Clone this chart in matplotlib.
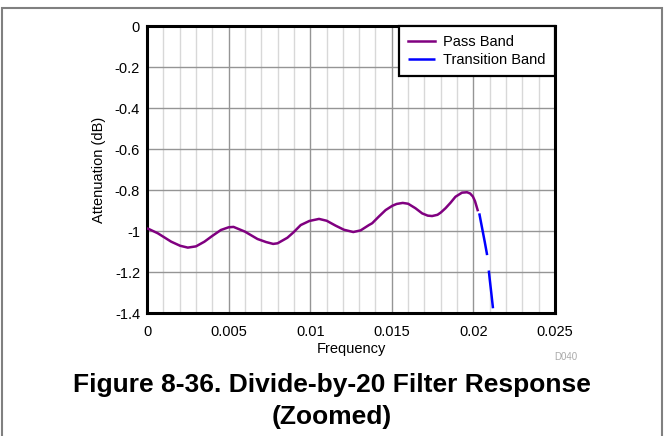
import numpy as np
import matplotlib
matplotlib.use("Agg")
import matplotlib.pyplot as plt
from matplotlib.patches import Rectangle
from matplotlib.ticker import MultipleLocator

plt.rcParams["font.family"] = ["Liberation Sans", "DejaVu Sans"]

# values
pass_freq = [0.0, 0.0001, 0.00066, 0.001, 0.00148, 0.00203, 0.0025, 0.003, 0.00352,
             0.004, 0.00453, 0.005, 0.0053, 0.006, 0.00677, 0.0073, 0.00773, 0.008,
             0.0086, 0.00897, 0.00942, 0.00995, 0.01054, 0.01101, 0.01156, 0.01207,
             0.01264, 0.01309, 0.0136, 0.0138, 0.0142, 0.01462, 0.01503, 0.0153,
             0.01567, 0.016, 0.01645, 0.01686, 0.0172, 0.01747, 0.0178, 0.0180,
             0.01829, 0.0186, 0.0189, 0.0193, 0.01961, 0.0198, 0.01997, 0.0201, 0.02026]
pass_atten = [-0.988, -0.990, -1.011, -1.028, -1.052, -1.072, -1.081, -1.075, -1.052,
              -1.024, -0.995, -0.982, -0.980, -1.003, -1.039, -1.054, -1.063, -1.060,
              -1.033, -1.007, -0.971, -0.951, -0.941, -0.950, -0.974, -0.994,
              -1.005, -0.997, -0.971, -0.962, -0.930, -0.898, -0.877, -0.868,
              -0.863, -0.867, -0.889, -0.914, -0.925, -0.927, -0.921, -0.910,
              -0.889, -0.862, -0.833, -0.813, -0.811, -0.817, -0.832, -0.855, -0.898]

trans_freq = [0.02036, 0.0205, 0.0207, 0.02083, 0.0209, 0.0210, 0.0211, 0.0212]
trans_atten = [-0.914, -0.972, -1.055, -1.112, -1.16, -1.235, -1.305, -1.377]

x_ticks = [0, 0.005, 0.01, 0.015, 0.02, 0.025]
x_labels = ["0", "0.005", "0.01", "0.015", "0.02", "0.025"]
y_ticks = [0, -0.2, -0.4, -0.6, -0.8, -1, -1.2, -1.4]
y_labels = ["0", "-0.2", "-0.4", "-0.6", "-0.8", "-1", "-1.2", "-1.4"]

fig = plt.figure(figsize=(6.64, 4.36), dpi=100)
ax = fig.add_axes([147 / 664, 1 - 313 / 436, 408 / 664, 287 / 436])

ax.plot(pass_freq, pass_atten, color="#800080", lw=1.8, label="Pass Band", zorder=3)
tl, = ax.plot(trans_freq, trans_atten, color="#0000ff", lw=1.8, label="Transition Band", zorder=3)
tl.set_dashes((17.0, 6.2))

ax.set_xlim(0, 0.025)
ax.set_ylim(-1.4, 0)
ax.set_xticks(x_ticks)
ax.set_xticklabels(x_labels)
ax.set_yticks(y_ticks)
ax.set_yticklabels(y_labels)
ax.xaxis.set_minor_locator(MultipleLocator(0.001))
ax.tick_params(which="both", length=0, labelsize=10.5, colors="black")
ax.tick_params(axis="x", pad=9)
ax.tick_params(axis="y", pad=5)

ax.grid(which="minor", axis="x", color="#d8d8d8", lw=1.0)
ax.grid(which="major", axis="both", color="#959595", lw=1.0)
ax.set_axisbelow(True)
for s in ax.spines.values():
    s.set_linewidth(2.2)
    s.set_color("black")

ax.set_xlabel("Frequency", fontsize=10.5, labelpad=2)
ax.set_ylabel("Attenuation (dB)", fontsize=10.5, labelpad=6)

leg = ax.legend(loc="upper right", borderaxespad=0, fancybox=False, framealpha=1,
                edgecolor="black", fontsize=10.5, handlelength=1.9, handletextpad=0.55,
                borderpad=0.62, labelspacing=0.28)
leg.get_frame().set_linewidth(1.6)

fig.text(566 / 664, 1 - 357 / 436, "D040", fontsize=7, color="#aaaaaa",
         ha="center", va="center")
fig.text(332 / 664, 1 - 392 / 436, "Figure 8-36. Divide-by-20 Filter Response",
         fontsize=19, fontweight="bold", ha="center", va="baseline")
fig.text(332 / 664, 1 - 424 / 436, "(Zoomed)",
         fontsize=19, fontweight="bold", ha="center", va="baseline")

# gray page frame
fig.add_artist(Rectangle((1.5 / 664, -0.1), 660 / 664, 1.1 - 8 / 436,
                         transform=fig.transFigure, fill=False,
                         edgecolor="#808080", lw=1.5, clip_on=False))

fig.savefig("out.png", dpi=100)
